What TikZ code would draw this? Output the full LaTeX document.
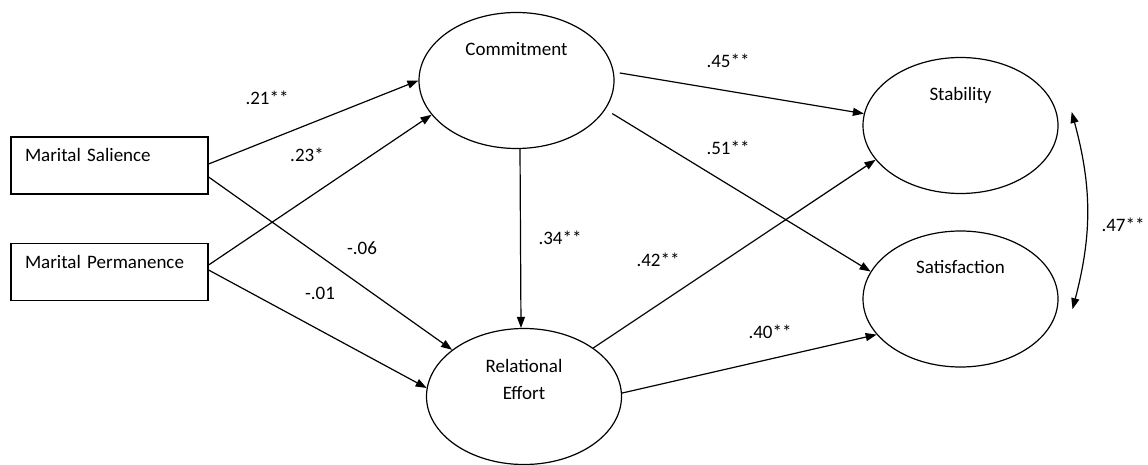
\documentclass[tikz,border=0pt]{standalone}
\usepackage{fontspec}
\setmainfont{Carlito}
\usetikzlibrary{arrows.meta,shapes.geometric}

\begin{document}
\begin{tikzpicture}[x=1pt, y=-1pt,
  every node/.style={font=\fontsize{19}{27}\selectfont},
  obsbox/.style={draw, line width=1.2pt, minimum width=197pt, minimum height=57pt, text width=169pt, align=left, inner xsep=14pt, inner ysep=0pt, text height=25pt, text depth=32pt},
  latent/.style={draw, ellipse, line width=1.2pt, minimum width=195pt, minimum height=136pt},
  lattext/.style={anchor=north, yshift=-30pt, inner sep=0pt, align=center},
  coef/.style={inner sep=0pt},
  arr/.style={-{Triangle[length=11pt,width=8pt]}, line width=1.2pt},
  corr/.style={{Triangle[length=11pt,width=8pt]}-{Triangle[length=11pt,width=8pt]}, line width=1.2pt}]
\useasboundingbox (0,0) rectangle (1148,465);
% observed variables
\node[obsbox] (sal) at (109.5,165.5) {Marital Salience};
\node[obsbox] (per) at (109.5,272) {Marital Permanence};
% latent variables
\node[latent, label={[lattext]north:Commitment}] (com) at (516.5,80.5) {};
\node[latent, label={[lattext]north:Stability}] (sta) at (960.5,125.5) {};
\node[latent, label={[lattext]north:Satisfaction}] (sat) at (960.5,299) {};
\node[latent, label={[lattext, yshift=-1pt]north:Relational\\Effort}] (rel) at (524,396.5) {};
% paths
\draw[arr] ([yshift=1.5pt]sal.east) -- (com.west);
\draw[arr] ([yshift=-11.5pt]sal.east) -- (rel.147);
\draw[arr] ([yshift=7pt]per.east) -- (com.202);
\draw[arr] ([yshift=2pt]per.east) -- (rel.175);
\draw[arr] ([xshift=3.5pt]com.south) -- ([xshift=-3pt]rel.north);
\draw[arr, shorten <=6pt] (com.5) -- (sta.173);
\draw[arr, shorten <=8pt] (com.-18) -- (sat.163);
\draw[arr] (rel.35) -- (sta.202);
\draw[arr] (rel.2) -- (sat.203);
\draw[corr] ([xshift=15pt]sta.8) to[bend left=15] ([xshift=15pt]sat.-6);
% coefficients
\node[coef] (c21) at (267,98) {.21**};
\node[coef] (c23) at (307,155) {.23*};
\node[coef] (c06) at (362,248) {-.06};
\node[coef] (c01) at (320,293) {-.01};
\node[coef] (c34) at (560,238) {.34**};
\node[coef] (c45) at (728,61) {.45**};
\node[coef] (c51) at (728,148) {.51**};
\node[coef] (c42) at (658,260) {.42**};
\node[coef] (c40) at (770,332) {.40**};
\node[coef] (c47) at (1123,225) {.47**};
\end{tikzpicture}
\end{document}
